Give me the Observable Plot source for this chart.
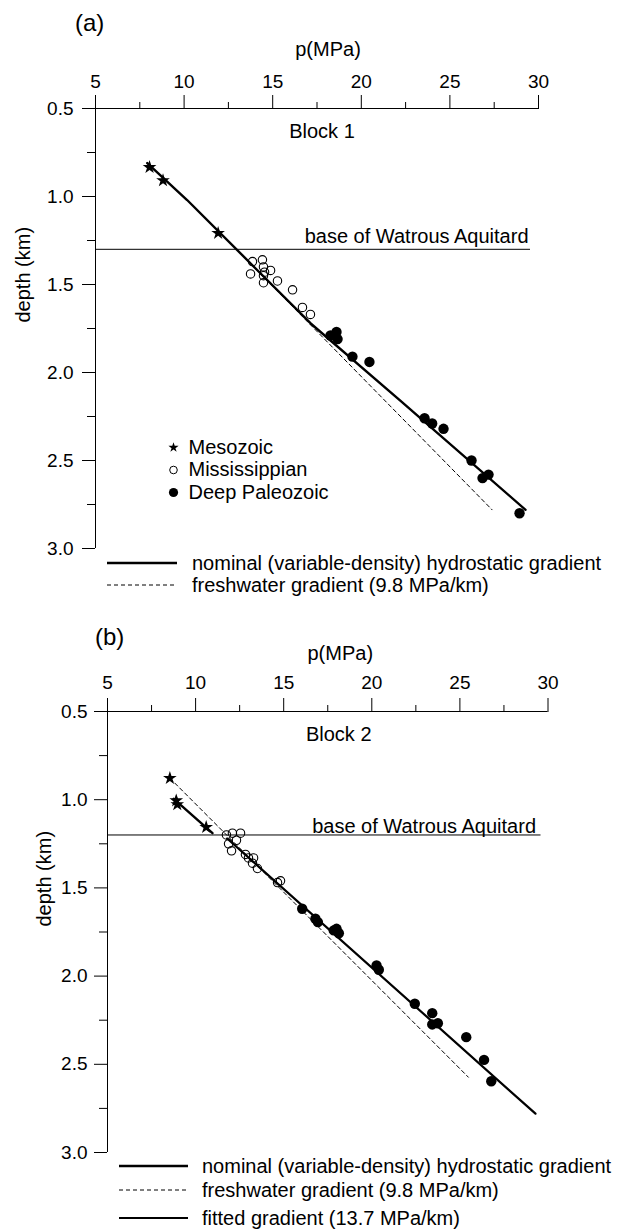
<!DOCTYPE html>
<html>
<head>
<meta charset="utf-8">
<script src="https://cdn.jsdelivr.net/npm/d3@7"></script>
<script src="https://cdn.jsdelivr.net/npm/@observablehq/plot@0.6"></script>
<style>
  body { margin: 0; background: #fff; color: #000; font-family: "Liberation Sans", Arial, sans-serif; }
  .panel { position: relative; width: 619px; height: 615px; overflow: hidden; }
  .panel svg { position: absolute; left: 0; top: 0; }
  .tag { position: absolute; font-size: 24px; line-height: 24px; }
  .keys { position: absolute; font-size: 20px; }
  .keys .row { display: flex; align-items: center; height: 22px; white-space: nowrap; }
  .keys svg { position: static; display: block; }
</style>
</head>
<body>
<div id="panelA" class="panel"></div>
<div id="panelB" class="panel"></div>
<script>
// Axis ticks
const xMajor = [5, 10, 15, 20, 25, 30];
const xMinor = [7.5, 12.5, 17.5, 22.5, 27.5];
const yMajor = [0.5, 1.0, 1.5, 2.0, 2.5, 3.0];
const yMinor = [0.75, 1.25, 1.75, 2.25, 2.75];

// Stratigraphic units
const units = ["Mesozoic", "Mississippian", "Deep Paleozoic"];
const gradientNames = [
  "nominal (variable-density) hydrostatic gradient",
  "freshwater gradient (9.8 MPa/km)",
  "fitted gradient (13.7 MPa/km)"
];

// Block 1 measurements: [pressure (MPa), depth (km)]
const mesozoic1 = [[8.05, 0.834], [8.81, 0.909], [11.92, 1.208]];
const mississippian1 = [
  [13.86, 1.37], [14.42, 1.36], [14.48, 1.40], [14.88, 1.42], [14.54, 1.43], [13.75, 1.44],
  [14.48, 1.45], [14.48, 1.49], [15.27, 1.48], [16.12, 1.53], [16.68, 1.63], [17.13, 1.67]
];
const paleozoic1 = [
  [18.26, 1.79], [18.6, 1.77], [18.66, 1.81], [19.5, 1.91], [20.46, 1.94],
  [23.57, 2.26], [24.0, 2.29], [24.64, 2.32], [26.22, 2.50], [26.84, 2.60], [27.18, 2.58], [28.93, 2.80]
];
const nominal1 = [[7.92, 0.81], [10.17, 1.02], [17.13, 1.72], [22.2, 2.16], [29.27, 2.78]];
const freshwater1 = [[12.95, 1.30], [27.38, 2.78]];
const aquitard1 = 1.30;

// Block 2 measurements: [pressure (MPa), depth (km)]
const mesozoic2 = [[8.54, 0.878], [8.90, 1.005], [8.96, 1.027], [10.60, 1.156]];
const mississippian2 = [
  [11.75, 1.20], [12.09, 1.19], [12.55, 1.19], [12.32, 1.23], [11.87, 1.25], [12.04, 1.29],
  [12.83, 1.31], [13.0, 1.33], [13.29, 1.33], [13.23, 1.36], [13.51, 1.39], [14.65, 1.47], [14.82, 1.46]
];
const paleozoic2 = [
  [16.05, 1.618], [16.8, 1.675], [16.94, 1.694], [17.84, 1.741], [18.0, 1.732], [18.13, 1.757],
  [20.27, 1.94], [20.4, 1.964], [22.44, 2.157], [23.43, 2.21], [23.43, 2.274], [23.75, 2.267],
  [25.36, 2.346], [26.37, 2.475], [26.78, 2.596]
];
const nominal2 = [[11.79, 1.22], [29.29, 2.78]];
const fitted2 = [[8.76, 0.995], [10.96, 1.19]];
const freshwater2 = [[8.54, 0.878], [25.48, 2.573]];
const aquitard2 = 1.20;

// Marker style per unit
const unitStyle = {
  "Mesozoic": {symbol: "star", r: 4.3, fill: "#000", stroke: "none"},
  "Mississippian": {symbol: "circle", r: 4.2, fill: "none", stroke: "#000", strokeWidth: 1.1},
  "Deep Paleozoic": {symbol: "circle", r: 5.2, fill: "#000", stroke: "none"}
};
const legendStyle = {
  "Mesozoic": {symbol: "star", r: 3.2, fill: "#000", stroke: "none"},
  "Mississippian": {symbol: "circle", r: 3.8, fill: "none", stroke: "#000", strokeWidth: 1},
  "Deep Paleozoic": {symbol: "circle", r: 4.6, fill: "#000", stroke: "none"}
};
const lineStyle = [
  {strokeWidth: 2.4},
  {strokeWidth: 1, strokeDasharray: "4,3"},
  {strokeWidth: 2.2}
];

const font = "'Liberation Sans', Arial, sans-serif";
const P = d => d[0], D = d => d[1];

function drawPanel(c) {
  const marks = [
    Plot.ruleY([0.5], {stroke: "#000", strokeWidth: 1}),
    Plot.ruleX([5], {stroke: "#000", strokeWidth: 1}),
    Plot.axisX(xMajor, {anchor: "top", tickSize: 14, tickPadding: c.xPad, label: null, fontSize: 19, stroke: "#000"}),
    Plot.axisX(xMinor, {anchor: "top", tickSize: 7, tickFormat: () => "", label: null, stroke: "#000"}),
    Plot.axisY(yMajor, {anchor: "left", tickSize: 13, tickPadding: c.yPad, tickFormat: d3.format(".1f"), label: null, fontSize: 19, stroke: "#000"}),
    Plot.axisY(yMinor, {anchor: "left", tickSize: 8, tickFormat: () => "", label: null, stroke: "#000"}),
    Plot.ruleY([c.aquitard], {y: d => d, stroke: "#000", strokeWidth: 1, insetRight: c.aqInset}),
    Plot.text([c.aquitard], {y: d => d, frameAnchor: "right", text: () => "base of Watrous Aquitard",
      textAnchor: "end", lineAnchor: "bottom", dx: c.aqDx, dy: c.aqDy, fontSize: 20}),
    Plot.text([c.block], {frameAnchor: "top", text: d => d, lineAnchor: "bottom", dx: c.blockDx, dy: 29, fontSize: 20}),
    Plot.text(["p(MPa)"], {frameAnchor: "top", text: d => d, lineAnchor: "bottom", dx: c.pDx, dy: c.pDy, fontSize: 20}),
    Plot.text(["depth (km)"], {frameAnchor: "left", text: d => d, rotate: -90, lineAnchor: "middle", dx: c.dDx, dy: c.dDy, fontSize: 20})
  ];
  for (const ln of c.lines) {
    marks.push(Plot.line(ln.data, {x: P, y: D, stroke: "#000", ...lineStyle[ln.kind]}));
  }
  units.forEach((u, i) => {
    marks.push(Plot.dot(c.points[i], {x: P, y: D, ...unitStyle[u]}));
  });
  if (c.symbolLegend) {
    units.forEach((u, i) => {
      marks.push(Plot.dot([u], {frameAnchor: "top-left", dx: 78, dy: 339 + i * 22.5, ...legendStyle[u]}));
      marks.push(Plot.text([u], {frameAnchor: "top-left", text: d => d, textAnchor: "start", lineAnchor: "middle",
        dx: 93, dy: 339 + i * 22.5, fontSize: 20}));
    });
  }
  const svg = Plot.plot({
    width: 619,
    height: c.height,
    marginTop: c.mt, marginLeft: c.ml, marginRight: c.mr, marginBottom: c.mb,
    x: {domain: [5, 30], axis: null},
    y: {domain: [0.5, 3], reverse: true, axis: null},
    style: {fontFamily: font, fontSize: "19px", color: "#000", background: "transparent", overflow: "visible"},
    marks
  });
  const host = document.getElementById(c.id);
  host.appendChild(svg);

  const tag = document.createElement("div");
  tag.className = "tag";
  tag.textContent = c.tag;
  tag.style.left = c.tagPos[0] + "px";
  tag.style.top = c.tagPos[1] + "px";
  host.appendChild(tag);

  // gradient key below the axes
  const keys = document.createElement("div");
  keys.className = "keys";
  keys.style.left = c.keyPos[0] + "px";
  keys.style.top = c.keyPos[1] + "px";
  c.keyKinds.forEach((k, i) => {
    const row = document.createElement("div");
    row.className = "row";
    row.style.height = c.keyRows[i] + "px";
    const s = lineStyle[k];
    row.innerHTML =
      `<svg width="${c.keyLen + c.keyGap}" height="10"><line x1="0" x2="${c.keyLen}" y1="5" y2="5" stroke="#000" ` +
      `stroke-width="${s.strokeWidth}" ${s.strokeDasharray ? `stroke-dasharray="${s.strokeDasharray}"` : ""}/></svg>` +
      `<span>${gradientNames[k]}</span>`;
    keys.appendChild(row);
  });
  host.appendChild(keys);
}

drawPanel({
  id: "panelA", tag: "(a)", tagPos: [75, 11], block: "Block 1",
  height: 562, mt: 108, ml: 95, mr: 81, mb: 14,
  xPad: 7, yPad: 9, aquitard: aquitard1, aqInset: 8, aqDx: -10, aqDy: -6,
  blockDx: 5, pDx: 11, pDy: -53, dDx: -72, dDy: -6,
  points: [mesozoic1, mississippian1, paleozoic1],
  lines: [{data: nominal1, kind: 0}, {data: freshwater1, kind: 1}],
  symbolLegend: true,
  keyPos: [107, 552], keyKinds: [0, 1], keyRows: [22, 22], keyLen: 70, keyGap: 15
});

drawPanel({
  id: "panelB", tag: "(b)", tagPos: [95, 10], block: "Block 2",
  height: 551, mt: 96, ml: 107, mr: 71.5, mb: 14,
  xPad: 9, yPad: 7, aquitard: aquitard2, aqInset: 7, aqDx: -12, aqDy: -2,
  blockDx: 11, pDx: 12.5, pDy: -52, dDx: -63, dDy: -5.5,
  points: [mesozoic2, mississippian2, paleozoic2],
  lines: [{data: freshwater2, kind: 1}, {data: fitted2, kind: 0}, {data: nominal2, kind: 2}],
  symbolLegend: false,
  keyPos: [119, 539], keyKinds: [0, 1, 2], keyRows: [24, 24, 32], keyLen: 69, keyGap: 14
});
</script>
</body>
</html>
